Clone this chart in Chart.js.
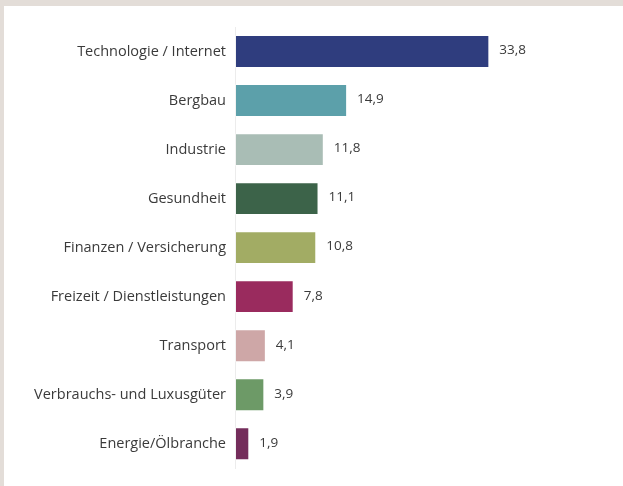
<!DOCTYPE html>
<html>
<head>
<meta charset="utf-8">
<script src="https://cdn.jsdelivr.net/npm/chart.js@4"></script>
<style>
    html, body { margin: 0; padding: 0; }
    body { background: #e3ddd8; width: 623px; height: 486px; overflow: hidden; }
    #panel { position: absolute; left: 4px; top: 6px; width: 619px; height: 480px; background: #ffffff; }
</style>
</head>
<body>
<div id="panel"><canvas id="branchenChart" width="619" height="480"></canvas></div>
<script>
const branchen = [
    'Technologie / Internet',
    'Bergbau',
    'Industrie',
    'Gesundheit',
    'Finanzen / Versicherung',
    'Freizeit / Dienstleistungen',
    'Transport',
    'Verbrauchs- und Luxusgüter',
    'Energie/Ölbranche'
];
const anteile = [33.8, 14.9, 11.8, 11.1, 10.8, 7.8, 4.1, 3.9, 1.9];
const farben = ['#2f3d7e', '#5ca0aa', '#a9bdb5', '#3c6349', '#a2ac64', '#9a2b5e', '#cea7a7', '#6d9a67', '#742d5b'];

// Werte rechts neben die Balken schreiben
const wertePlugin = {
    id: 'werte',
    afterDatasetsDraw: function (chart) {
        const ctx = chart.ctx;
        const meta = chart.getDatasetMeta(0);
        ctx.save();
        ctx.font = '13.5px "Open Sans", Arial, sans-serif';
        ctx.fillStyle = '#3a3a3a';
        ctx.textAlign = 'left';
        ctx.textBaseline = 'middle';
        meta.data.forEach((bar, i) => {
            const text = anteile[i].toFixed(1).replace('.', ',');
            ctx.fillText(text, bar.x + 10, bar.y - 1);
        });
        ctx.restore();
    }
};

new Chart(document.getElementById('branchenChart').getContext('2d'), {
    type: 'bar',
    data: {
        labels: branchen,
        datasets: [{
            data: anteile,
            backgroundColor: farben,
            borderColor: 'rgba(255,255,255,0.35)',
            borderWidth: 1,
            borderSkipped: false,
            categoryPercentage: 0.67,
            barPercentage: 1
        }]
    },
    options: {
        indexAxis: 'y',
        responsive: false,
        animation: false,
        layout: {
            padding: { top: 21, bottom: 15, left: 0, right: 14 }
        },
        plugins: {
            legend: { display: false },
            tooltip: { enabled: false }
        },
        scales: {
            x: {
                display: false,
                min: 0,
                max: 49.7
            },
            y: {
                afterFit: function (scale) { scale.width = 231; },
                grid: { display: false, drawTicks: false },
                border: { display: true, color: '#ececec', width: 1 },
                ticks: {
                    color: '#3a3a3a',
                    padding: 9,
                    font: { family: '"Open Sans", Arial, sans-serif', size: 14.5 }
                }
            }
        }
    },
    plugins: [wertePlugin]
});
</script>
</body>
</html>
